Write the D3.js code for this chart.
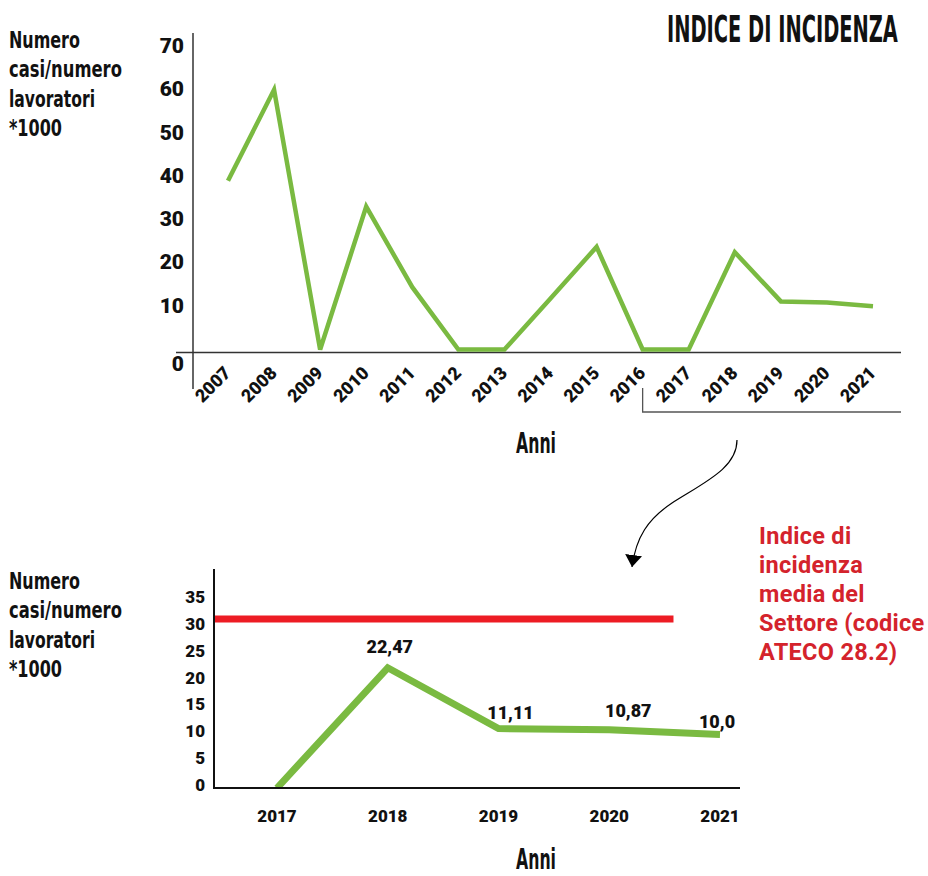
<!DOCTYPE html>
<html><head><meta charset="utf-8">
<script src="https://cdn.jsdelivr.net/npm/d3@7"></script>
<style>
html,body{margin:0;padding:0;background:#fff;}
svg{display:block;}
.num{font-family:Roboto,'Noto Sans',sans-serif;font-weight:900;fill:#111;}
.cond{font-family:'Liberation Sans Narrow','DejaVu Sans Condensed',sans-serif;font-weight:700;fill:#111;}
</style></head><body><svg id="c" width="928" height="876"></svg>
<script>
// ---- data ----
const years = [2007,2008,2009,2010,2011,2012,2013,2014,2015,2016,2017,2018,2019,2020,2021];
const incidence = [39,60,0,33,14.4,0,0,11.8,23.7,0,0,22.47,11.11,10.87,10.0];
const yTicksTop = [0,10,20,30,40,50,60,70];
const detailYears = [2017,2018,2019,2020,2021];
const detailValues = [0,22.47,11.11,10.87,10.0];
const detailLabels = ["","22,47","11,11","10,87","10,0"];
const yTicksBottom = [0,5,10,15,20,25,30,35];
const sectorAverage = 31.6;
const sectorSpan = [2016.43, 2020.58];
const title = "INDICE DI INCIDENZA";
const yTitleLines = ["Numero","casi/numero","lavoratori","*1000"];
const xTitle = "Anni";
const legendLines = ["Indice di","incidenza","media del","Settore (codice","ATECO 28.2)"];

const GREEN = "#7aba41", RED = "#ed1c24", REDTXT = "#d4232c";
const svg = d3.select("#c");

// condensed text: measured, then squeezed horizontally to the target width
function condText(str, x0, y0, size, width){
  const t = svg.append("text").attr("class","cond").attr("font-size",size)
    .attr("transform",`translate(${x0},${y0})`).text(str);
  const w = t.node().getComputedTextLength();
  t.attr("transform",`translate(${x0},${y0}) scale(${width/w},1)`);
  return t;
}

// ---- title ----
condText(title, 667, 41.5, 38, 231);

// ---- y titles ----
const ytLens = [71,113,86,53];
function yTitle(y0){
  yTitleLines.forEach((t,i)=>condText(t, 9, y0+i*29.3, 23, ytLens[i]));
}
yTitle(48);
yTitle(589);

// ---- top chart ----
const x = d3.scalePoint(years,[228,873]);
const y = d3.scaleLinear([0,70],[349.5,46.5]);
const axisCol = "#333";
svg.append("line").attr("x1",193).attr("x2",193).attr("y1",33).attr("y2",389).attr("stroke",axisCol).attr("stroke-width",1.5);
svg.append("line").attr("x1",176).attr("x2",901).attr("y1",y(0)+3).attr("y2",y(0)+3).attr("stroke",axisCol).attr("stroke-width",1.5);
svg.append("g").selectAll("text").data(yTicksTop).join("text").attr("class","num")
  .attr("x",184).attr("y",d=>d===0? y(0)+14 : y(d)-0.5).attr("dominant-baseline","central")
  .attr("text-anchor","end").attr("font-size",21).text(d=>d);
svg.append("g").selectAll("text").data(years).join("text").attr("class","num")
  .attr("text-anchor","end").attr("font-size",18)
  .attr("transform",d=>`translate(${x(d)+4},374) rotate(-45)`).text(d=>d);
svg.append("path").datum(years.map((yr,i)=>[yr,incidence[i]]))
  .attr("fill","none").attr("stroke",GREEN).attr("stroke-width",4.5).attr("stroke-linejoin","miter")
  .attr("d",d3.line().x(d=>x(d[0])).y(d=>y(d[1])));
// bracket
svg.append("path").attr("fill","none").attr("stroke","#555").attr("stroke-width",1.3)
  .attr("d",`M${x(2016)},388V412H901`);
condText(xTitle, 516, 453, 28, 40);

// ---- arrow ----
const defs = svg.append("defs");
defs.append("marker").attr("id","ah").attr("viewBox","0 -5 10 10").attr("refX",10).attr("refY",0)
  .attr("markerUnits","userSpaceOnUse").attr("markerWidth",12).attr("markerHeight",17)
  .attr("preserveAspectRatio","none").attr("orient","auto")
  .append("path").attr("d","M0,-5L10,0L0,5Z").attr("fill","#000");
svg.append("path").attr("fill","none").attr("stroke","#000").attr("stroke-width",1.2)
  .attr("d","M737,440 C737,468 705,482 672,503 C648,519 636,537 632,567").attr("marker-end","url(#ah)");

// ---- legend text ----
legendLines.forEach((t,i)=>{
  svg.append("text").attr("x",759).attr("y",544+i*29).attr("font-family","Roboto,'Noto Sans',sans-serif")
    .attr("font-weight",700).attr("font-size",23.5).attr("letter-spacing",0.3).attr("fill",REDTXT).text(t);
});

// ---- bottom chart ----
const xb = d3.scaleLinear([2017,2021],[277,720]);
const yb = d3.scaleLinear([0,40],[788,574]);
defs.append("clipPath").attr("id","clipB").append("rect").attr("x",214).attr("y",560).attr("width",540).attr("height",228);
svg.append("line").attr("x1",xb(sectorSpan[0])).attr("x2",xb(sectorSpan[1])).attr("y1",yb(sectorAverage)).attr("y2",yb(sectorAverage))
  .attr("stroke",RED).attr("stroke-width",7);
svg.append("path").datum(detailYears.map((yr,i)=>[yr,detailValues[i]]))
  .attr("clip-path","url(#clipB)")
  .attr("fill","none").attr("stroke",GREEN).attr("stroke-width",7).attr("stroke-linejoin","miter")
  .attr("d",d3.line().x(d=>xb(d[0])).y(d=>yb(d[1])));
svg.append("line").attr("x1",214).attr("x2",214).attr("y1",569).attr("y2",789).attr("stroke","#111").attr("stroke-width",2);
svg.append("line").attr("x1",213).attr("x2",740).attr("y1",788).attr("y2",788).attr("stroke","#111").attr("stroke-width",2);
svg.append("g").selectAll("text").data(yTicksBottom).join("text").attr("class","num")
  .attr("x",205).attr("y",d=>yb(d)-3.5).attr("dominant-baseline","central")
  .attr("text-anchor","end").attr("font-size",17).text(d=>d);
svg.append("g").selectAll("text").data(detailYears).join("text").attr("class","num")
  .attr("x",d=>xb(d)).attr("y",822).attr("text-anchor","middle").attr("font-size",17).text(d=>d);
const lblOff = [[0,0],[2,-15],[12,-10],[19,-13],[-3,-7]];
svg.append("g").selectAll("text").data(detailYears).join("text").attr("class","num")
  .attr("x",(d,i)=>xb(d)+lblOff[i][0]).attr("y",(d,i)=>yb(detailValues[i])+lblOff[i][1])
  .attr("text-anchor","middle").attr("font-size",18).text((d,i)=>detailLabels[i]);
condText(xTitle, 516, 869, 28, 40);
</script></body></html>
